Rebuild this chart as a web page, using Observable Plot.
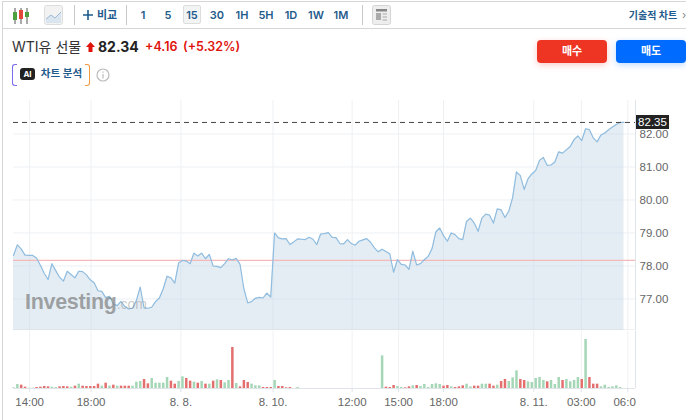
<!DOCTYPE html>
<html lang="ko"><head><meta charset="utf-8">
<script src="https://cdn.jsdelivr.net/npm/d3@7"></script>
<script src="https://cdn.jsdelivr.net/npm/@observablehq/plot@0.6"></script>
<style>
html,body{margin:0;padding:0;background:#fff;overflow:hidden}
#page{position:relative;width:686px;height:420px;font-family:Inter,"Noto Sans CJK KR",sans-serif;overflow:hidden}
#page>*{position:absolute}
.t{font-size:11px;font-weight:600;color:#1f5b8c;line-height:14px;top:8px;transform:translateX(-50%);white-space:nowrap}
.sep{width:1px;height:20px;top:5px;background:#c9c9c9}
.btn{top:40px;width:70px;height:23px;border-radius:4px;color:#fff;font-size:11px;font-weight:700;line-height:23px;text-align:center}
svg{display:block}
</style></head><body><div id="page">
<div style="left:2px;top:1px;width:684px;height:1px;background:#d6d6d6"></div>
<div style="left:2px;top:28px;width:684px;height:1px;background:#d6d6d6"></div>
<div style="left:2px;top:1px;width:1px;height:419px;background:#d6d6d6"></div>
<svg style="left:12px;top:6px" width="18" height="20"><path d="M3 2v16M9 2v16M15 2v16" stroke="#555" stroke-width="1"/><rect x="1" y="6" width="4" height="8" fill="#4f9e3f"/><rect x="7" y="4" width="4" height="9" fill="#e2473a"/><rect x="13" y="6" width="4" height="5" fill="#4f9e3f"/></svg>
<svg style="left:44px;top:5px" width="19" height="20"><rect x=".5" y=".5" width="18" height="19" rx="2" fill="#f2f2f2" stroke="#ddd"/><path d="M2 14l5-4 4 3 6-6v11H2z" fill="#dbe5f0"/><path d="M2 14l5-4 4 3 6-6" fill="none" stroke="#9bb9d8"/></svg>
<div class="sep" style="left:74px"></div>
<svg style="left:82px;top:9px" width="12" height="12"><path d="M6 1v10M1 6h10" stroke="#1f5b8c" stroke-width="1.6"/></svg>
<div class="t" style="left:107px">비교</div>
<div class="sep" style="left:126px"></div>
<div style="left:183px;top:5px;width:18px;height:19px;background:#f2f3f4;border:1px solid #ddd;border-radius:2px;box-sizing:border-box"></div>
<div class="t" style="left:143px">1</div><div class="t" style="left:168px">5</div><div class="t" style="left:192px">15</div><div class="t" style="left:217px">30</div><div class="t" style="left:242px">1H</div><div class="t" style="left:266px">5H</div><div class="t" style="left:291px">1D</div><div class="t" style="left:316px">1W</div><div class="t" style="left:341px">1M</div>
<div class="sep" style="left:362px"></div>
<svg style="left:372px;top:5px" width="19" height="20"><rect x=".5" y=".5" width="18" height="19" rx="2" fill="#eee" stroke="#d5d5d5"/><rect x="4" y="4" width="11" height="2.5" fill="#888"/><rect x="4" y="8" width="5" height="7" fill="#aaa"/><path d="M10.5 9h4.5M10.5 12h4.5M10.5 15h4.5" stroke="#aaa"/></svg>
<div class="t" style="left:653px;font-size:10px">기술적 차트</div>
<div class="t" style="left:684px;font-weight:400;color:#888">›</div>
<div style="left:12px;top:38px;font-size:14px;line-height:18px;color:#333;white-space:nowrap">WTI유 선물</div>
<svg style="left:86px;top:42px" width="9" height="10"><path d="M4.5 0L9 5H6.5V10H2.5V5H0z" fill="#e0120c"/></svg>
<div style="left:98px;top:38px;font-size:14px;line-height:18px;font-weight:700;color:#222">82.34</div>
<div style="left:145px;top:38px;font-size:12.5px;line-height:18px;font-weight:600;color:#e0120c;white-space:nowrap">+4.16</div>
<div style="left:183px;top:38px;font-size:12.5px;line-height:18px;font-weight:600;color:#e0120c;white-space:nowrap">(+5.32%)</div>
<div style="left:12px;top:64px;width:5px;height:22px;border:1px solid #7a6cf0;border-right:none;border-radius:3px 0 0 3px;box-sizing:border-box"></div>
<div style="left:85px;top:64px;width:5px;height:22px;border:1px solid #f39a3c;border-left:none;border-radius:0 3px 3px 0;box-sizing:border-box"></div>
<div style="left:20px;top:68px;width:15px;height:12px;background:#222;border-radius:3px;color:#fff;font-size:8px;font-weight:700;line-height:12px;text-align:center">AI</div>
<div class="t" style="left:61.5px;top:67px;font-size:10.5px">차트 분석</div>
<svg style="left:96px;top:68px" width="14" height="14"><circle cx="7" cy="7" r="6" fill="none" stroke="#bbb" stroke-width="1.2"/><path d="M7 6v4.5M7 3.5v1.2" stroke="#bbb" stroke-width="1.2"/></svg>
<div class="btn" style="left:537px;background:#ee3524;box-shadow:0 2px 6px rgba(238,53,36,.25)">매수</div>
<div class="btn" style="left:616px;background:#006bff;box-shadow:0 2px 6px rgba(0,107,255,.25)">매도</div>
<div id="price" style="left:0;top:100px"></div>
<div id="volume" style="left:0;top:330px"></div>
<div style="left:25px;top:288px;font-family:'Liberation Sans',sans-serif;font-size:21.5px;line-height:28px;font-weight:700;letter-spacing:-.3px;color:rgba(125,125,125,.7);white-space:nowrap">Investing<span style="font-size:14px;font-weight:400;letter-spacing:0;color:rgba(150,150,150,.5)">.com</span></div>
<div style="left:636px;top:115px;width:33px;height:14px;background:#222;color:#fff;font:11.5px/14px 'Liberation Sans',sans-serif;text-align:center">82.35</div>
</div>
<script>
const prices = [78.32,78.64,78.52,78.33,78.32,78.32,78.24,78.02,77.78,77.59,78.07,77.86,77.66,77.54,77.84,77.74,77.64,77.84,77.83,77.73,77.58,77.49,77.25,77.23,77.04,77.08,76.85,76.80,76.93,76.77,76.70,76.72,76.95,77.36,76.73,76.72,76.75,76.92,77.03,77.31,77.69,77.64,77.48,78.09,78.17,78.15,78.07,78.39,78.30,78.39,78.22,78.35,78.00,77.99,77.95,78.07,78.22,
78.18,78.23,78.05,77.31,76.88,76.92,77.02,77.05,77.03,77.18,77.06,79.00,78.85,78.82,78.83,78.65,78.73,78.82,78.81,78.80,78.87,78.81,78.65,78.97,78.98,79.01,78.87,78.86,78.68,78.67,78.80,78.68,78.63,78.75,78.79,78.83,78.72,78.55,78.43,78.51,78.44,78.37,77.81,78.19,78.05,78.03,77.90,78.45,78.03,78.07,78.19,78.29,78.52,79.03,79.15,78.92,78.75,79.00,
78.95,78.83,78.80,79.35,79.45,79.30,79.05,79.45,79.57,79.54,79.30,79.73,79.70,79.47,79.66,80.07,80.85,80.74,80.32,80.64,80.79,80.89,81.20,81.29,81.05,81.06,81.15,81.46,81.42,81.52,81.62,81.83,81.94,81.80,82.16,82.13,81.88,81.76,81.97,82.03,82.13,82.21,82.29,82.35,82.35];
const volumes = [2,12,10,4,1,1,3,4,6,5,4,3,5,6,5,4,7,13,7,6,6,6,13,7,16,7,10,7,7,7,7,7,19,21,27,14,30,16,16,16,33,22,13,21,35,30,22,19,16,21,13,13,22,26,24,17,24,
123,15,5,24,18,13,8,8,3,3,3,24,6,6,2,3,0,3,
0,0,0,0,0,0,0,0,0,0,0,0,0,0,0,0,0,0,0,0,0,
98,4,3,9,6,3,2,5,8,9,6,12,3,12,14,12,7,9,5,3,5,
8,13,5,7,7,13,13,13,7,10,21,27,21,32,53,27,24,20,18,30,33,24,20,24,12,33,24,27,20,24,33,27,147,33,13,13,5,10,3,5,8,3,0];
const dirs = ["g","g","r","r","g","g","r","r","r","r","g","g","r","r","r","g","r","g","r","r","r","r","r","g","r","g","r","g","r","r","r","g","g","g","r","r","g","g","g","g","g","r","r","g","g","r","r","g","r","g","r","g","r","g","r","g","g",
"r","g","r","r","r","g","g","g","r","r","r","g","r","r","r","r","g","g",
"g","g","g","g","g","g","g","g","g","g","g","g","g","g","g","g","g","g","g","g","g",
"g","r","r","r","g","g","r","r","g","r","g","g","g","g","g","g","r","r","g","r","r",
"r","g","g","r","r","g","g","r","r","g","r","r","g","g","g","r","r","g","g","g","g","g","r","g","g","g","r","g","g","g","g","r","g","r","r","r","g","g","g","g","g","g","g"];
const tickIndex = [4.2,20.2,43.6,67.6,88.2,100.3,112,135.5,147.9,160];
const tickLabels = ["14:00","18:00","8. 8.","8. 10.","12:00","15:00","18:00","8. 11.","03:00","06:00"];
const priceTicks = [77,78,79,80,81,82];
const lastPrice = 82.35;
const refPrice = 78.17;
const series = prices.map((p,i)=>({i,p}));
const bars = volumes.map((v,i)=>({i,v,d:dirs[i]}));
const xDomain = [0,162];
const axisFont = "'Liberation Sans',sans-serif";

const price = Plot.plot({
  width:686,height:230,marginLeft:13,marginRight:51,marginTop:0,marginBottom:0,
  style:{fontFamily:axisFont,fontSize:"12px",background:"transparent"},
  x:{domain:xDomain,axis:null},
  y:{domain:[76.045,83.015]},
  marks:[
    Plot.gridY(priceTicks,{stroke:"#eef0f3",strokeOpacity:1}),
    Plot.ruleX(tickIndex,{stroke:"#eef0f3"}),
    Plot.areaY(series,{x:"i",y1:76.045,y2:"p",fill:"#c5d8e8",fillOpacity:0.47}),
    Plot.ruleY([refPrice],{stroke:"#f6b9b9",strokeWidth:1.2}),
    Plot.lineY(series,{x:"i",y:"p",stroke:"#8fbcdf",strokeWidth:1.2}),
    Plot.ruleY([lastPrice],{stroke:"#444",strokeDasharray:"5,4",strokeWidth:1}),
    Plot.ruleX([xDomain[1]],{stroke:"#dfe3ea"}),
    Plot.ruleY([76.045],{stroke:"#c9c9c9",strokeWidth:1.5}),
    Plot.axisY(priceTicks,{anchor:"right",label:null,tickSize:0,tickPadding:4,tickFormat:d=>d.toFixed(2),fill:"#666",fontSize:11.5})
  ]
});
document.getElementById("price").append(price);

const volume = Plot.plot({
  width:636,height:86,marginLeft:13,marginRight:1,marginTop:1,marginBottom:28,
  style:{fontFamily:axisFont,fontSize:"11.5px",background:"transparent"},
  x:{domain:xDomain,axis:null},
  y:{domain:[0,171],axis:null},
  color:{domain:["g","r"],range:["#a5d6b6","#e46f6f"]},
  marks:[
    Plot.ruleX(tickIndex,{stroke:"#f0f1f4"}),
    Plot.ruleX(bars,{x:"i",y1:0,y2:"v",stroke:"d",strokeWidth:2.5}),
    Plot.ruleY([0],{stroke:"#e0e3e8"}),
    Plot.ruleX([xDomain[1]],{stroke:"#dfe3ea"}),
    Plot.axisX(tickIndex,{anchor:"bottom",label:null,tickSize:4,tickPadding:5,stroke:"#dfe3ea",fill:"#666",fontSize:11.5,tickFormat:(d,k)=>tickLabels[k]})
  ]
});
document.getElementById("volume").append(volume);
</script></body></html>
